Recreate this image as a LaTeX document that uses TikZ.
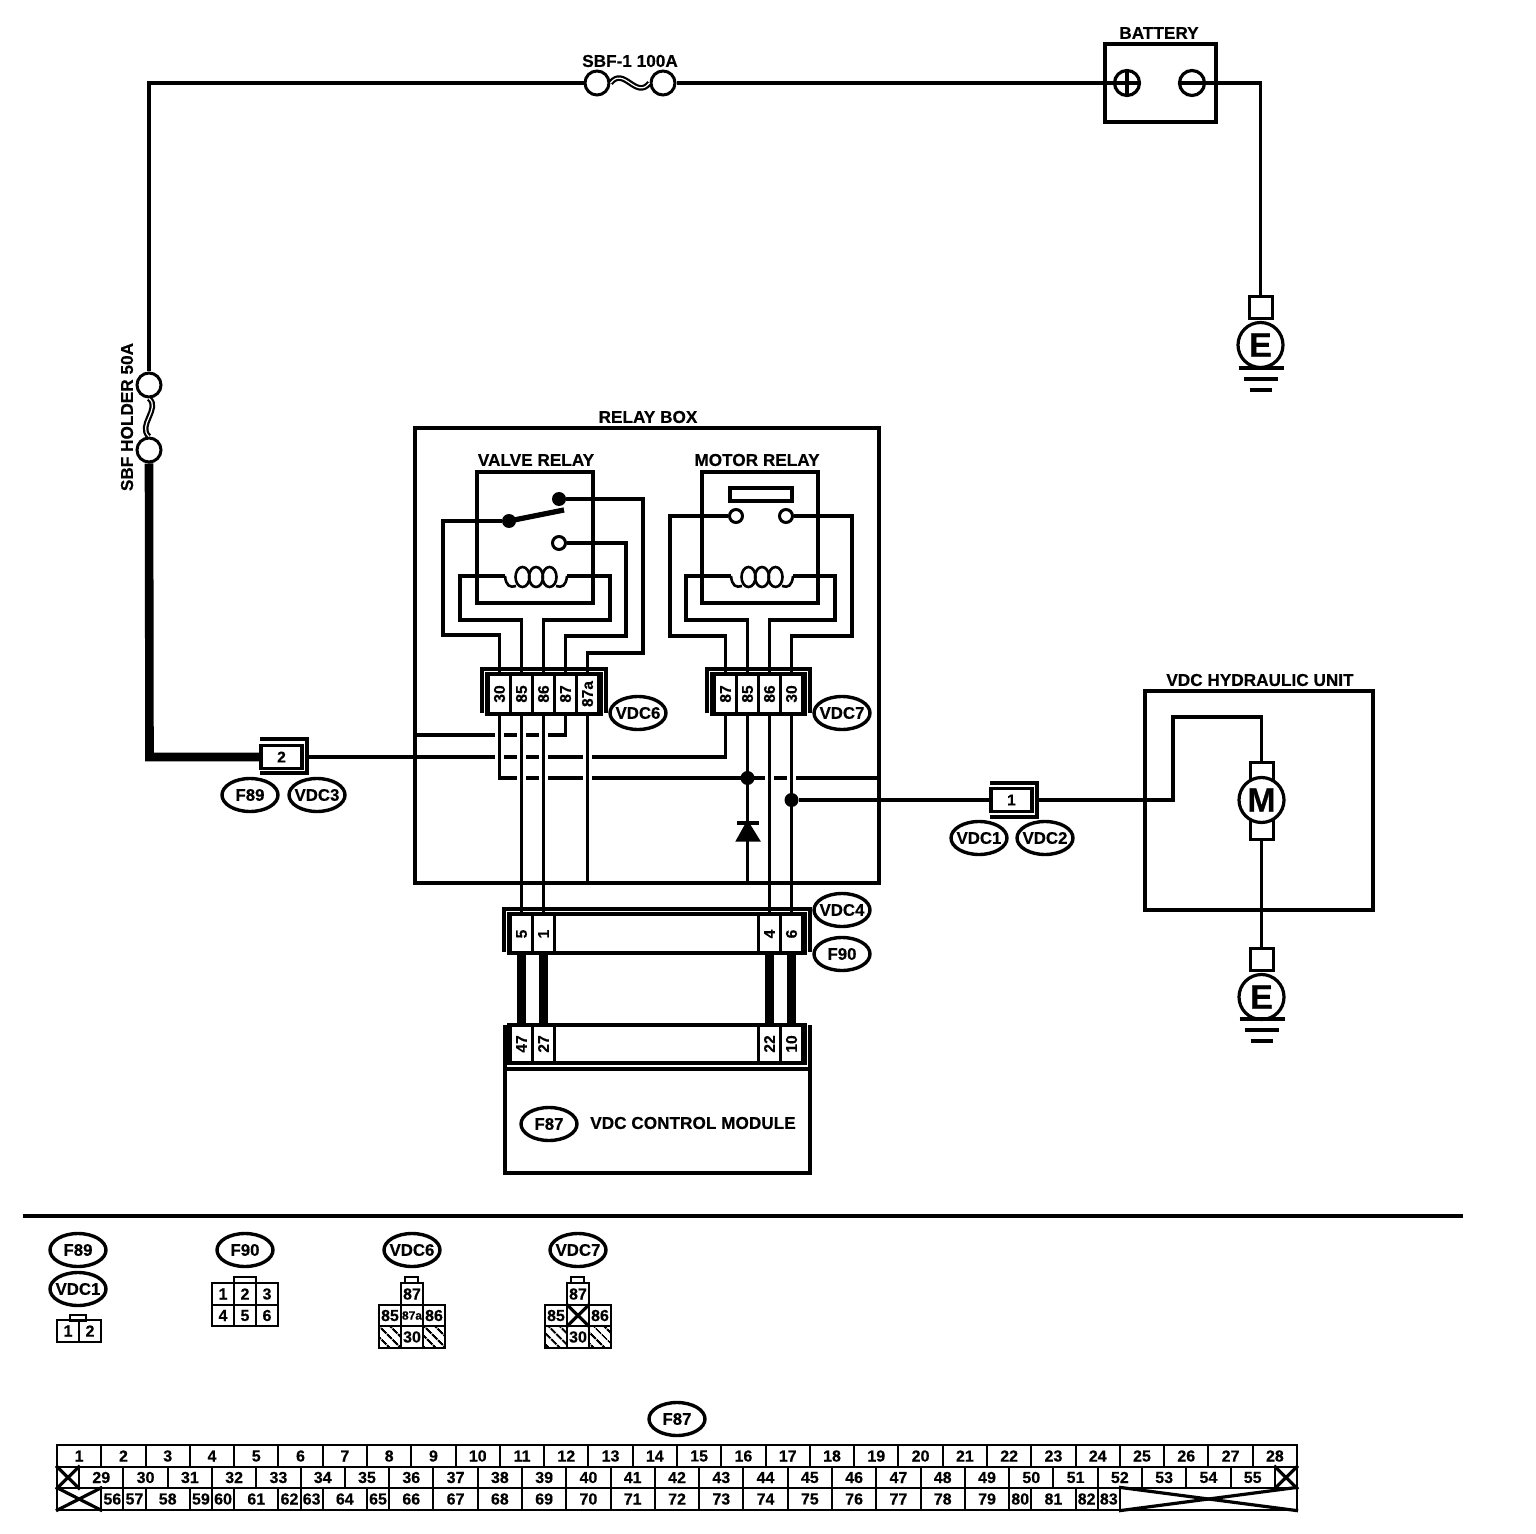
\documentclass[tikz,border=0pt]{standalone}
\usepackage{fontspec}
\setmainfont{Liberation Sans}[BoldFeatures={FakeBold=0.4}]
\usetikzlibrary{patterns.meta,shapes.geometric}
\newcommand{\lblfont}{\fontsize{8.6}{10}\selectfont\bfseries}
\newcommand{\tagfont}{\fontsize{8.4}{10}\selectfont\bfseries}
\newcommand{\pinfont}{\fontsize{7.8}{9}\selectfont\bfseries}
\newcommand{\tblfont}{\fontsize{8}{10}\selectfont\bfseries}
\newcommand{\symfont}{\fontsize{17}{18}\selectfont\bfseries}
\def\pinlab#1{\rotatebox{90}{#1}}
\def\housing(#1,#2,#3,#4){\draw[wire] (#1-5,#4-1) -- (#1-5,#2-5) -- (#3+5,#2-5) -- (#3+5,#4-1); \draw[wire] (#1,#2) rectangle (#3,#4);}
\def\sleeve(#1,#2){\draw[wire] (#1-1,#2-17) -- (#1+46,#2-17) -- (#1+46,#2+17) -- (#1-1,#2+17);}
\def\coil(#1){\foreach \cx in {-13.5,0,13.5} {\draw[thinwire] (#1+\cx,577) ellipse (7 and 10);}
	\draw[thinwire] (#1-31,576) .. controls (#1-30,586) and (#1-26,588) .. (#1-20,586);
	\draw[thinwire] (#1+31,576) .. controls (#1+30,586) and (#1+26,588) .. (#1+20,586);}
\def\earthbars(#1,#2){\draw[wire] (#1-22,#2+22) -- (#1+23,#2+22); \draw[wire] (#1-17,#2+33) -- (#1+17,#2+33); \draw[wire] (#1-11,#2+44) -- (#1+11,#2+44);}
\tikzset{
	wire/.style={line width=1.6pt},
	thinwire/.style={line width=1.3pt},
	heavy/.style={line width=4.3pt},
	crosswire/.style={wire, preaction={draw=white, line width=4.6pt}},
	fusewave/.style={line width=1.1pt, double, double distance=0.6pt},
	lbl/.style={font=\lblfont, inner sep=0pt},
	tagoval/.style={ellipse, draw, line width=1.7pt, minimum width=28pt, minimum height=16.5pt, inner sep=-1.6pt, font=\tagfont},
	fuseend/.style={circle, draw, fill=white, line width=1.5pt, minimum size=12pt, inner sep=0pt},
	termfill/.style={circle, fill=black, minimum size=7pt, inner sep=0pt},
	termopen/.style={circle, draw, fill=white, line width=1.5pt, minimum size=6.5pt, inner sep=0pt},
	batpole/.style={circle, draw, line width=1.6pt, minimum size=12.5pt, inner sep=0pt},
	symcircle/.style={circle, draw, fill=white, line width=1.6pt, minimum size=22.5pt, inner sep=0pt, font=\symfont},
	plugsq/.style={rectangle, draw, fill=white, line width=1.5pt, minimum width=11.5pt, minimum height=11pt, inner sep=0pt},
	pincell/.style={rectangle, draw, fill=white, line width=1.3pt, minimum width=11pt, minimum height=19.5pt, inner sep=0pt, font=\pinfont},
	smallcell/.style={rectangle, draw, line width=1.6pt, minimum width=20.5pt, minimum height=11.5pt, inner sep=0pt, font=\pinfont},
	gridcell/.style={rectangle, draw, line width=1pt, minimum width=11pt, minimum height=10.75pt, inner sep=0pt, font=\tblfont},
	hatchcell/.style={gridcell, pattern={Lines[angle=-45, distance=4pt, line width=1.1pt]}},
	tabcell/.style={line width=1pt},
}
\begin{document}
\begin{tikzpicture}[x=0.5pt, y=-0.5pt]
	\useasboundingbox (0,0) rectangle (1536,1534);
	%%%%% TOP WIRING %%%%%
	\node[fuseend] (fuseC) at (597,83) {};
	\node[fuseend] (fuseD) at (663,83) {};
	\node[lbl] (sbfA) at (630,61) {SBF-1 100A};
	\node[fuseend] (fuseA) at (149,385) {};
	\node[fuseend] (fuseB) at (149,450) {};
	\node[lbl, rotate=90] (sbfB) at (127,417) {SBF HOLDER 50A};
	\node[batpole] (batP) at (1127,83) {};
	\node[batpole] (batM) at (1192,83) {};
	\node[lbl] (batL) at (1159,33) {BATTERY};
	\node[plugsq] (plugA) at (1260.5,308) {};
	\node[symcircle] (earthA) at (1260.5,345) {E};
	\draw[wire] (1105,44) rectangle (1216,122);
	\draw[wire] (batP.west) -- (batP.east);
	\draw[wire] (batP.north) -- (batP.south);
	\draw[wire] (batM.west) -- (batM.east) -- (1260.5,83) -- (plugA.north);
	\draw[wire] (fuseA.north) -- (149,83) -- (fuseC.west);
	\draw[wire] (fuseD.east) -- (batP.west);
	\draw[fusewave] (fuseC.east) .. controls (624,66) and (636,100) .. (fuseD.west);
	\draw[fusewave] (fuseA.south) .. controls (161,408) and (137,426) .. (fuseB.north);
	\earthbars(1260.5,346)
	%%%%% F89 CONNECTOR %%%%%
	\node[smallcell] (plugT) at (281.5,757) {2};
	\coordinate (plugTr) at (307,757);
	\draw[heavy] (fuseB.south) -- (149.5,757) -- (plugT.west);
	\sleeve(261,756)
	\node[tagoval] (tagF89) at (250,795) {F89};
	\node[tagoval] (tagV3) at (317,795) {VDC3};
	%%%%% RELAY BOX %%%%%
	\node[lbl] (boxL) at (648,417) {RELAY BOX};
	\node[lbl] (valveL) at (536,460) {VALVE RELAY};
	\node[lbl] (motorL) at (757,460) {MOTOR RELAY};
	\node[pincell] (vb30) at (499.5,694) {\pinlab{30}};
	\node[pincell] (vb85) at (521.5,694) {\pinlab{85}};
	\node[pincell] (vb86) at (543.5,694) {\pinlab{86}};
	\node[pincell] (vb87) at (565.5,694) {\pinlab{87}};
	\node[pincell] (vb87a) at (587.5,694) {\pinlab{87a}};
	\node[pincell] (mb87) at (725.5,694) {\pinlab{87}};
	\node[pincell] (mb85) at (747.5,694) {\pinlab{85}};
	\node[pincell] (mb86) at (769.5,694) {\pinlab{86}};
	\node[pincell] (mb30) at (791.5,694) {\pinlab{30}};
	\node[pincell] (cf5) at (521.5,934) {\pinlab{5}};
	\node[pincell] (cf1) at (543.5,934) {\pinlab{1}};
	\node[pincell] (cf4) at (769.5,934) {\pinlab{4}};
	\node[pincell] (cf6) at (791.5,934) {\pinlab{6}};
	\coordinate (wallA) at (415,735);
	\coordinate (wallB) at (879,778);
	\coordinate (wallC) at (587.5,883);
	\coordinate (wallD) at (747.5,883);
	% valve relay
	\draw[wire] (477,472) rectangle (593,603);
	\node[termfill] (vlC) at (559,499) {};
	\node[termfill] (vlA) at (509,521) {};
	\node[termopen] (vlO) at (559,543) {};
	\draw[line width=2.6pt] (vlA.center) -- (564,510);
	\draw[wire] (vlC.east) -- (643,499) -- (643,653) -- (587.5,653) -- (vb87a.north);
	\draw[wire] (vlA.west) -- (443,521) -- (443,635) -- (499.5,635) -- (vb30.north);
	\draw[wire] (vlO.east) -- (626,543) -- (626,636) -- (565.5,636) -- (vb87.north);
	\draw[wire] (505,576) -- (460,576) -- (460,620) -- (521.5,620) -- (vb85.north);
	\draw[wire] (567,576) -- (610,576) -- (610,620) -- (543.5,620) -- (vb86.north);
	\coil(536)
	% motor relay
	\draw[wire] (702,472) rectangle (818,603);
	\draw[wire] (730,488) rectangle (792,501);
	\node[termopen] (mlA) at (736,516) {};
	\node[termopen] (mlB) at (786,516) {};
	\draw[wire] (mlA.west) -- (670,516) -- (670,636) -- (725.5,636) -- (mb87.north);
	\draw[wire] (mlB.east) -- (852,516) -- (852,636) -- (791.5,636) -- (mb30.north);
	\draw[wire] (731,576) -- (686,576) -- (686,620) -- (747.5,620) -- (mb85.north);
	\draw[wire] (793,576) -- (835,576) -- (835,620) -- (769.5,620) -- (mb86.north);
	\coil(762)
	% wires under the relays
	\draw[wire] (wallA) -- (565.5,735) -- (vb87.south);
	\draw[wire] (plugTr) -- (725.5,757) -- (mb87.south);
	\draw[crosswire] (vb30.south) -- (499.5,778) -- (wallB);
	\draw[crosswire] (vb85.south) -- (cf5.north);
	\draw[crosswire] (vb86.south) -- (cf1.north);
	\draw[crosswire] (vb87a.south) -- (wallC);
	\draw[crosswire] (mb86.south) -- (cf4.north);
	\draw[crosswire] (mb30.south) -- (cf6.north);
	\draw[wire] (mb85.south) -- (wallD);
	\node[termfill] (jointA) at (747.5,778) {};
	\node[termfill] (jointB) at (791.5,800) {};
	\draw[wire, fill=black] (738,840) -- (758,840) -- (747.5,823) -- cycle;
	\draw[wire] (737,823) -- (759,823);
	\draw[wire] (415,428) rectangle (879,883);
	\housing(487,674,601,714)
	\housing(712,674,805,714)
	\node[tagoval] (tagV6) at (638,713) {VDC6};
	\node[tagoval] (tagV7) at (842,713) {VDC7};
	%%%%% CONTROL MODULE %%%%%
	\housing(509,914,805,953)
	\node[tagoval] (tagV4) at (842,910) {VDC4};
	\node[tagoval] (tagF90) at (842,954) {F90};
	\node[pincell] (cm47) at (521.5,1044) {\pinlab{47}};
	\node[pincell] (cm27) at (543.5,1044) {\pinlab{27}};
	\node[pincell] (cm22) at (769.5,1044) {\pinlab{22}};
	\node[pincell] (cm10) at (791.5,1044) {\pinlab{10}};
	\draw[heavy] (cf5.south) -- (cm47.north);
	\draw[heavy] (cf1.south) -- (cm27.north);
	\draw[heavy] (cf4.south) -- (cm22.north);
	\draw[heavy] (cf6.south) -- (cm10.north);
	\draw[wire] (509,1025) rectangle (805,1063);
	\draw[wire] (505,1025) -- (505,1173) -- (810,1173) -- (810,1025);
	\draw[wire] (505,1069) -- (810,1069);
	\node[tagoval] (tagF87) at (549,1124) {F87};
	\node[lbl] (moduleL) at (693,1123) {VDC CONTROL MODULE};
	%%%%% HYDRAULIC UNIT %%%%%
	\node[smallcell] (plugU) at (1011.5,800) {1};
	\coordinate (plugUr) at (1037,800);
	\sleeve(991,800)
	\draw[wire] (jointB.east) -- (plugU.west);
	\node[tagoval] (tagV1) at (979,838) {VDC1};
	\node[tagoval] (tagV2) at (1045,838) {VDC2};
	\node[lbl] (unitL) at (1260,680) {VDC HYDRAULIC UNIT};
	\draw[wire] (1145,691) rectangle (1373,910);
	\node[plugsq] (motorT) at (1261.5,773) {};
	\node[plugsq] (motorB) at (1261.5,828) {};
	\node[symcircle] (motorM) at (1261.5,800) {M};
	\node[plugsq] (plugB) at (1261.5,959) {};
	\node[symcircle] (earthB) at (1261.5,997) {E};
	\draw[wire] (plugUr) -- (1173,800) -- (1173,717) -- (1261.5,717) -- (motorT.north);
	\draw[wire] (motorB.south) -- (plugB.north);
	\earthbars(1261.5,997)
	%%%%% SEPARATOR %%%%%
	\draw[wire] (23,1216) -- (1463,1216);
	%%%%% CONNECTOR FACES %%%%%
	\node[tagoval] (faceF89) at (78,1250) {F89};
	\node[tagoval] (faceV1) at (78,1289) {VDC1};
	\draw[tabcell] (70,1315) rectangle (86,1321);
	\node[gridcell] (v1a) at (68,1331) {1};
	\node[gridcell] (v1b) at (90,1331) {2};
	\node[tagoval] (faceF90) at (245,1250) {F90};
	\draw[tabcell] (234,1277) rectangle (256,1283);
	\foreach \n/\cx/\cy in {1/223/1294,2/245/1294,3/267/1294,4/223/1315.5,5/245/1315.5,6/267/1315.5} {
		\node[gridcell] (fb\n) at (\cx,\cy) {\n};
	}
	\node[tagoval] (faceV6) at (412,1250) {VDC6};
	\draw[tabcell] (405,1277) rectangle (418,1283);
	\node[gridcell] (s6a) at (412,1294) {87};
	\node[gridcell] (s6b) at (390,1315.5) {85};
	\node[gridcell, font=\fontsize{6}{7}\selectfont\bfseries] (s6c) at (412,1315.5) {87a};
	\node[gridcell] (s6d) at (434,1315.5) {86};
	\node[hatchcell] (s6e) at (390,1337) {};
	\node[gridcell] (s6f) at (412,1337) {30};
	\node[hatchcell] (s6g) at (434,1337) {};
	\node[tagoval] (faceV7) at (578,1250) {VDC7};
	\draw[tabcell] (571,1277) rectangle (584,1283);
	\node[gridcell] (s7a) at (578,1294) {87};
	\node[gridcell] (s7b) at (556,1315.5) {85};
	\node[gridcell] (s7c) at (578,1315.5) {};
	\draw[wire] (s7c.north west) -- (s7c.south east);
	\draw[wire] (s7c.north east) -- (s7c.south west);
	\node[gridcell] (s7d) at (600,1315.5) {86};
	\node[hatchcell] (s7e) at (556,1337) {};
	\node[gridcell] (s7f) at (578,1337) {30};
	\node[hatchcell] (s7g) at (600,1337) {};
	%%%%% F87 TABLE %%%%%
	\node[tagoval] (faceF87) at (677,1419) {F87};
	\foreach \n in {1,...,28} {
		\node[gridcell, minimum width=22.14pt] (ra\n) at ({57+44.286*(\n-0.5)},1456) {\n};
	}
	\foreach \n in {29,...,55} {
		\node[gridcell, minimum width=22.14pt] (rb\n) at ({79.14+44.286*(\n-28.5)},1477.5) {\n};
	}
	\foreach \n/\p/\w in {56/2/1,57/3/1,58/4/2,59/6/1,60/7/1,61/8/2,62/10/1,63/11/1,64/12/2,65/14/1,66/15/2,67/17/2,68/19/2,69/21/2,70/23/2,71/25/2,72/27/2,73/29/2,74/31/2,75/33/2,76/35/2,77/37/2,78/39/2,79/41/2,80/43/1,81/44/2,82/46/1,83/47/1} {
		\node[gridcell, minimum width=\w*11.07pt] (rc\n) at ({57+22.143*(\p+\w/2)},1499) {\n};
	}
	\node[gridcell] (xa) at (68,1477.5) {};
	\draw[wire] (xa.north west) -- (xa.south east);
	\draw[wire] (xa.north east) -- (xa.south west);
	\node[gridcell] (xb) at (1286,1477.5) {};
	\draw[wire] (xb.north west) -- (xb.south east);
	\draw[wire] (xb.north east) -- (xb.south west);
	\node[gridcell, minimum width=22.14pt] (xc) at (79.14,1499) {};
	\draw[wire] (xc.north west) -- (xc.south east);
	\draw[wire] (xc.north east) -- (xc.south west);
	\node[gridcell, minimum width=88.57pt] (xd) at (1208.5,1499) {};
	\draw[wire] (xd.north west) -- (xd.south east);
	\draw[wire] (xd.north east) -- (xd.south west);
\end{tikzpicture}
\end{document}
